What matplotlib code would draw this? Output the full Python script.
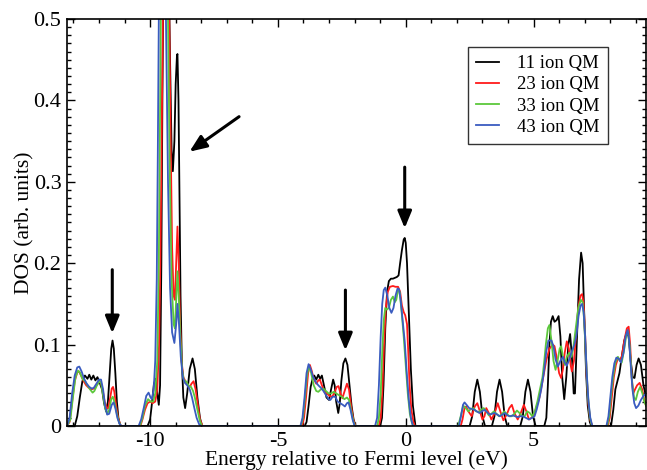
import matplotlib
matplotlib.use("Agg")
import matplotlib.pyplot as plt
from matplotlib.ticker import MultipleLocator

# DOS curves (energy in eV, DOS in arb. units), read as (E, DOS) pairs
black_E = [-13.25, -12.95, -12.85, -12.75, -12.65, -12.55, -12.45, -12.38, -12.30, -12.22,
           -12.14, -12.06, -11.98, -11.88, -11.80, -11.72, -11.65, -11.58, -11.52, -11.47,
           -11.42, -11.36, -11.30, -11.24, -11.17,
           -10.10, -10.00, -9.92, -9.85, -9.78, -9.72, -9.66, -9.61, -9.56, -9.52,
           -9.48, -9.42, -9.35, -9.28, -9.22, -9.16, -9.11, -9.05, -9.00, -8.95,
           -8.93, -8.89, -8.85, -8.81, -8.76, -8.70, -8.63, -8.55, -8.45, -8.34,
           -8.25, -8.15, -8.05, -7.97,
           -3.95, -3.88, -3.80, -3.72, -3.62, -3.58, -3.50, -3.42, -3.35, -3.28,
           -3.20, -3.10, -3.00, -2.92, -2.84, -2.78, -2.72, -2.64, -2.58, -2.52,
           -2.44, -2.36, -2.28, -2.20, -2.12, -2.04, -1.96,
           -1.00, -0.93, -0.87, -0.80, -0.73, -0.66, -0.58, -0.50, -0.42, -0.35,
           -0.28, -0.22, -0.15, -0.08, -0.04, 0.00, 0.05, 0.12, 0.20, 0.28, 0.38,
           2.50, 2.60, 2.70, 2.80, 2.90, 3.00, 3.10,
           3.37, 3.47, 3.57, 3.67, 3.77, 3.87, 3.97,
           4.48, 4.58, 4.68, 4.78, 4.88, 4.98, 5.08,
           5.42, 5.50, 5.56, 5.62, 5.68, 5.75, 5.82, 5.90, 5.98, 6.05,
           6.12, 6.20, 6.28, 6.36, 6.43, 6.50, 6.57, 6.62, 6.70, 6.78,
           6.86, 6.92, 6.98, 7.05, 7.12, 7.20, 7.26,
           8.03, 8.12, 8.20, 8.28, 8.36, 8.45, 8.55, 8.65, 8.72, 8.80,
           8.88, 8.95, 9.03, 9.11, 9.20, 9.30, 9.40]
black_D = [0.000, 0.000, 0.012, 0.035, 0.055, 0.062, 0.058, 0.063, 0.057, 0.062,
           0.056, 0.060, 0.054, 0.045, 0.028, 0.018, 0.030, 0.065, 0.095, 0.105,
           0.095, 0.065, 0.030, 0.010, 0.000,
           0.000, 0.008, 0.030, 0.052, 0.058, 0.040, 0.026, 0.050, 0.200, 0.400,
           0.550, 0.620, 0.640, 0.580, 0.450, 0.340, 0.313, 0.350, 0.420, 0.455,
           0.457, 0.400, 0.280, 0.160, 0.080, 0.035, 0.022, 0.040, 0.070, 0.083,
           0.070, 0.035, 0.010, 0.000,
           0.000, 0.005, 0.025, 0.048, 0.061, 0.062, 0.057, 0.063, 0.058, 0.062,
           0.050, 0.035, 0.032, 0.045, 0.057, 0.050, 0.030, 0.016, 0.028, 0.055,
           0.077, 0.083, 0.075, 0.050, 0.025, 0.008, 0.000,
           0.000, 0.010, 0.050, 0.120, 0.165, 0.178, 0.181, 0.181, 0.182, 0.183,
           0.185, 0.200, 0.216, 0.229, 0.231, 0.225, 0.200, 0.140, 0.070, 0.025, 0.000,
           0.000, 0.012, 0.042, 0.057, 0.042, 0.012, 0.000,
           0.000, 0.012, 0.042, 0.057, 0.042, 0.012, 0.000,
           0.000, 0.012, 0.042, 0.057, 0.042, 0.012, 0.000,
           0.000, 0.010, 0.050, 0.100, 0.128, 0.135, 0.128, 0.130, 0.135, 0.110,
           0.060, 0.033, 0.060, 0.100, 0.113, 0.085, 0.040, 0.040, 0.110, 0.180,
           0.213, 0.200, 0.140, 0.070, 0.025, 0.005, 0.000,
           0.000, 0.020, 0.045, 0.055, 0.065, 0.085, 0.105, 0.115, 0.110, 0.080,
           0.060, 0.059, 0.075, 0.083, 0.075, 0.050, 0.036]

red_E = [-13.25, -13.15, -13.05, -12.95, -12.85, -12.78, -12.70, -12.60, -12.50, -12.40,
         -12.30, -12.20, -12.10, -12.00, -11.93, -11.86, -11.78, -11.70, -11.64, -11.56,
         -11.50, -11.45, -11.40, -11.33, -11.25, -11.15,
         -10.38, -10.30, -10.20, -10.10, -10.00, -9.90, -9.80, -9.72, -9.65, -9.60,
         -9.55, -9.50, -9.42, -9.33, -9.25, -9.20, -9.14, -9.08, -9.03, -8.98,
         -8.93, -8.88, -8.83, -8.77, -8.70, -8.62, -8.52, -8.45, -8.38, -8.30,
         -8.22, -8.13, -8.05, -7.95,
         -4.05, -3.98, -3.90, -3.82, -3.75, -3.68, -3.60, -3.50, -3.42, -3.36,
         -3.28, -3.18, -3.08, -2.98, -2.88, -2.80, -2.70, -2.63, -2.55, -2.48,
         -2.40, -2.30, -2.22, -2.14, -2.05, -1.97,
         -1.05, -0.98, -0.92, -0.85, -0.78, -0.70, -0.62, -0.50, -0.40, -0.30,
         -0.22, -0.15, -0.08, -0.02, 0.05, 0.10, 0.15, 0.22, 0.30, 0.36,
         2.15, 2.22, 2.30, 2.36, 2.45, 2.58, 2.70, 2.80, 2.90, 3.00,
         3.08, 3.15, 3.25, 3.35, 3.48, 3.60, 3.70, 3.82, 3.95, 4.05,
         4.15, 4.25, 4.38, 4.50, 4.62, 4.72, 4.82, 4.92, 5.02, 5.12,
         5.23, 5.35, 5.50, 5.62, 5.75, 5.82, 5.90, 6.00, 6.08, 6.15,
         6.22, 6.30, 6.38, 6.45, 6.50, 6.58, 6.66, 6.75, 6.83, 6.90,
         6.96, 7.02, 7.08, 7.15, 7.22, 7.30,
         7.90, 7.98, 8.06, 8.14, 8.22, 8.30, 8.38, 8.45, 8.55, 8.65,
         8.72, 8.78, 8.84, 8.90, 8.97, 9.05, 9.15, 9.25, 9.33, 9.40]
red_D = [0.000, 0.005, 0.030, 0.055, 0.066, 0.067, 0.062, 0.055, 0.050, 0.047,
         0.045, 0.046, 0.050, 0.054, 0.054, 0.045, 0.030, 0.022, 0.022, 0.035,
         0.046, 0.048, 0.042, 0.025, 0.010, 0.000,
         0.000, 0.008, 0.020, 0.028, 0.030, 0.028, 0.030, 0.045, 0.100, 0.200,
         0.350, 0.500, 0.620, 0.620, 0.500, 0.360, 0.220, 0.160, 0.155, 0.200,
         0.245, 0.200, 0.130, 0.080, 0.060, 0.055, 0.050, 0.048, 0.052, 0.055,
         0.045, 0.025, 0.008, 0.000,
         0.000, 0.010, 0.035, 0.065, 0.075, 0.068, 0.058, 0.052, 0.056, 0.057,
         0.050, 0.042, 0.040, 0.037, 0.036, 0.040, 0.048, 0.049, 0.040, 0.034,
         0.042, 0.052, 0.045, 0.025, 0.008, 0.000,
         0.000, 0.010, 0.040, 0.100, 0.145, 0.165, 0.171, 0.172, 0.171, 0.171,
         0.165, 0.148, 0.140, 0.136, 0.125, 0.090, 0.050, 0.020, 0.005, 0.000,
         0.000, 0.008, 0.022, 0.024, 0.018, 0.012, 0.024, 0.028, 0.018, 0.008,
         0.012, 0.022, 0.016, 0.008, 0.016, 0.028, 0.018, 0.007, 0.014, 0.022,
         0.026, 0.016, 0.008, 0.016, 0.026, 0.018, 0.008, 0.010, 0.014, 0.024,
         0.035, 0.055, 0.081, 0.095, 0.100, 0.098, 0.085, 0.065, 0.059, 0.070,
         0.090, 0.104, 0.095, 0.075, 0.067, 0.080, 0.110, 0.145, 0.160, 0.162,
         0.150, 0.110, 0.060, 0.025, 0.007, 0.000,
         0.000, 0.010, 0.035, 0.060, 0.075, 0.083, 0.082, 0.085, 0.105, 0.120,
         0.122, 0.100, 0.060, 0.040, 0.045, 0.050, 0.053, 0.045, 0.032, 0.025]

green_E = [-13.25, -13.12, -13.02, -12.92, -12.82, -12.75, -12.65, -12.55, -12.45, -12.35,
           -12.25, -12.18, -12.08, -11.98, -11.92, -11.85, -11.76, -11.68, -11.60, -11.52,
           -11.46, -11.40, -11.32, -11.24, -11.15,
           -10.40, -10.30, -10.20, -10.08, -9.98, -9.88, -9.80, -9.72, -9.66, -9.62,
           -9.58, -9.50, -9.40, -9.30, -9.24, -9.16, -9.08, -9.03, -8.98, -8.93,
           -8.88, -8.82, -8.75, -8.68, -8.60, -8.50, -8.40, -8.32, -8.25, -8.15,
           -8.05, -7.97,
           -4.10, -4.02, -3.94, -3.86, -3.78, -3.70, -3.60, -3.50, -3.42, -3.32,
           -3.22, -3.12, -3.02, -2.92, -2.82, -2.72, -2.62, -2.50, -2.40, -2.30,
           -2.22, -2.14, -2.05, -1.98,
           -1.12, -1.05, -0.98, -0.92, -0.86, -0.80, -0.74, -0.66, -0.58, -0.50,
           -0.43, -0.37, -0.30, -0.24, -0.16, -0.08, 0.00, 0.08, 0.16, 0.24, 0.30,
           2.05, 2.15, 2.25, 2.35, 2.45, 2.55, 2.65, 2.75, 2.85, 2.95,
           3.05, 3.15, 3.25, 3.35, 3.45, 3.55, 3.65, 3.75, 3.85, 3.95,
           4.05, 4.15, 4.25, 4.35, 4.45, 4.55, 4.65, 4.75, 4.85, 4.95,
           5.05, 5.15, 5.25, 5.35, 5.42, 5.48, 5.56, 5.62, 5.70, 5.78,
           5.86, 5.94, 6.02, 6.08, 6.15, 6.22, 6.30, 6.40, 6.48, 6.55,
           6.65, 6.75, 6.85, 6.92, 6.98, 7.05, 7.12, 7.20, 7.28,
           7.88, 7.96, 8.04, 8.12, 8.20, 8.30, 8.38, 8.45, 8.55, 8.63,
           8.70, 8.77, 8.85, 8.93, 9.00, 9.08, 9.17, 9.26, 9.33, 9.40]
green_D = [0.000, 0.008, 0.035, 0.060, 0.068, 0.066, 0.058, 0.055, 0.050, 0.045,
           0.041, 0.043, 0.050, 0.055, 0.053, 0.040, 0.022, 0.015, 0.020, 0.033,
           0.036, 0.030, 0.018, 0.007, 0.000,
           0.000, 0.010, 0.025, 0.033, 0.030, 0.030, 0.040, 0.080, 0.200, 0.350,
           0.500, 0.640, 0.640, 0.500, 0.330, 0.180, 0.125, 0.120, 0.155, 0.190,
           0.160, 0.110, 0.070, 0.056, 0.055, 0.050, 0.048, 0.043, 0.035, 0.020,
           0.006, 0.000,
           0.000, 0.010, 0.035, 0.063, 0.074, 0.065, 0.050, 0.043, 0.042, 0.045,
           0.046, 0.043, 0.040, 0.040, 0.042, 0.040, 0.038, 0.036, 0.033, 0.035,
           0.032, 0.020, 0.006, 0.000,
           0.000, 0.010, 0.040, 0.090, 0.130, 0.145, 0.143, 0.145, 0.155, 0.159,
           0.152, 0.155, 0.167, 0.165, 0.140, 0.110, 0.075, 0.040, 0.015, 0.004, 0.000,
           0.000, 0.012, 0.025, 0.022, 0.018, 0.021, 0.022, 0.018, 0.017, 0.020,
           0.022, 0.018, 0.013, 0.015, 0.018, 0.015, 0.012, 0.014, 0.018, 0.015,
           0.012, 0.012, 0.015, 0.019, 0.016, 0.012, 0.012, 0.018, 0.016, 0.012,
           0.018, 0.030, 0.045, 0.060, 0.080, 0.100, 0.120, 0.124, 0.105, 0.080,
           0.069, 0.080, 0.095, 0.098, 0.085, 0.075, 0.085, 0.090, 0.085, 0.095,
           0.120, 0.145, 0.155, 0.152, 0.130, 0.085, 0.040, 0.012, 0.000,
           0.000, 0.012, 0.040, 0.062, 0.078, 0.085, 0.080, 0.078, 0.095, 0.112,
           0.116, 0.095, 0.055, 0.035, 0.032, 0.042, 0.048, 0.040, 0.030, 0.025]

blue_E = [-13.25, -13.15, -13.05, -12.95, -12.85, -12.77, -12.68, -12.58, -12.48, -12.38,
          -12.28, -12.20, -12.10, -12.00, -11.92, -11.84, -11.76, -11.68, -11.60, -11.50,
          -11.43, -11.36, -11.28, -11.20, -11.12,
          -10.45, -10.35, -10.25, -10.15, -10.06, -9.98, -9.93, -9.86, -9.80, -9.74,
          -9.70, -9.66, -9.58, -9.48, -9.38, -9.30, -9.22, -9.14, -9.05, -8.98,
          -8.93, -8.87, -8.80, -8.72, -8.64, -8.55, -8.45, -8.36, -8.27, -8.18,
          -8.08, -8.00,
          -4.12, -4.04, -3.96, -3.88, -3.80, -3.72, -3.62, -3.52, -3.42, -3.32,
          -3.22, -3.12, -3.02, -2.95, -2.86, -2.76, -2.66, -2.56, -2.46, -2.38,
          -2.30, -2.24, -2.16, -2.08, -2.00,
          -1.20, -1.12, -1.05, -0.98, -0.92, -0.86, -0.80, -0.72, -0.64, -0.56,
          -0.48, -0.40, -0.32, -0.26, -0.20, -0.12, -0.04, 0.04, 0.12, 0.20, 0.28,
          2.08, 2.16, 2.24, 2.30, 2.38, 2.48, 2.58, 2.68, 2.78, 2.88,
          2.98, 3.08, 3.18, 3.28, 3.38, 3.48, 3.58, 3.68, 3.78, 3.88,
          3.98, 4.08, 4.18, 4.28, 4.38, 4.48, 4.58, 4.70, 4.82, 4.94,
          5.04, 5.12, 5.20, 5.30, 5.40, 5.50, 5.58, 5.70, 5.78, 5.86,
          5.95, 6.05, 6.15, 6.22, 6.30, 6.40, 6.50, 6.60, 6.68, 6.76,
          6.84, 6.90, 6.96, 7.02, 7.08, 7.15, 7.22, 7.30,
          7.85, 7.93, 8.00, 8.08, 8.16, 8.24, 8.32, 8.42, 8.52, 8.60,
          8.68, 8.74, 8.80, 8.87, 8.94, 9.01, 9.10, 9.20, 9.30, 9.40]
blue_D = [0.000, 0.010, 0.040, 0.062, 0.072, 0.073, 0.067, 0.058, 0.052, 0.048,
          0.046, 0.047, 0.052, 0.057, 0.057, 0.045, 0.025, 0.014, 0.015, 0.026,
          0.029, 0.022, 0.010, 0.003, 0.000,
          0.000, 0.008, 0.022, 0.037, 0.041, 0.035, 0.033, 0.045, 0.080, 0.180,
          0.330, 0.500, 0.630, 0.620, 0.500, 0.300, 0.170, 0.115, 0.102, 0.125,
          0.150, 0.125, 0.085, 0.060, 0.053, 0.050, 0.045, 0.035, 0.022, 0.010,
          0.002, 0.000,
          0.000, 0.010, 0.035, 0.065, 0.076, 0.070, 0.060, 0.054, 0.050, 0.047,
          0.043, 0.038, 0.033, 0.032, 0.036, 0.036, 0.030, 0.028, 0.026, 0.024,
          0.028, 0.029, 0.020, 0.008, 0.000,
          0.000, 0.010, 0.050, 0.110, 0.150, 0.167, 0.170, 0.160, 0.145, 0.139,
          0.145, 0.160, 0.169, 0.168, 0.155, 0.130, 0.104, 0.065, 0.032, 0.010, 0.000,
          0.000, 0.012, 0.026, 0.029, 0.026, 0.022, 0.021, 0.020, 0.018, 0.016,
          0.018, 0.020, 0.017, 0.014, 0.015, 0.016, 0.014, 0.012, 0.014, 0.016,
          0.013, 0.012, 0.013, 0.012, 0.011, 0.012, 0.012, 0.010, 0.008, 0.010,
          0.012, 0.020, 0.030, 0.045, 0.065, 0.092, 0.105, 0.105, 0.098, 0.082,
          0.073, 0.080, 0.085, 0.078, 0.074, 0.082, 0.092, 0.100, 0.112, 0.135,
          0.148, 0.150, 0.140, 0.110, 0.065, 0.030, 0.010, 0.000,
          0.000, 0.012, 0.035, 0.060, 0.077, 0.084, 0.083, 0.078, 0.090, 0.110,
          0.118, 0.105, 0.075, 0.045, 0.028, 0.022, 0.025, 0.032, 0.037, 0.040]

labels = ["11 ion QM", "23 ion QM", "33 ion QM", "43 ion QM"]
colors = ["black", "#ff1a1a", "#5cc83c", "#3a5cc0"]

# arrows marking features: (tail E, tail DOS, tip E, tip DOS)
arrows = [(-11.48, 0.192, -11.48, 0.114),
          (-6.52, 0.380, -8.46, 0.337),
          (-2.36, 0.167, -2.36, 0.093),
          (-0.04, 0.318, -0.04, 0.243)]

plt.rcParams['font.family'] = ['Liberation Serif', 'DejaVu Serif']
plt.rcParams['axes.unicode_minus'] = False

fig = plt.figure(figsize=(6.47, 4.70), dpi=100)
ax = fig.add_axes([0.1036, 0.0936, 0.8949, 0.866])

series = [(black_E, black_D), (red_E, red_D), (green_E, green_D), (blue_E, blue_D)]
for (e, d), lab, c in zip(series, labels, colors):
    ax.plot(e, d, color=c, lw=1.3, label=lab)

for x0, y0, x1, y1 in arrows:
    ax.annotate('', xy=(x1, y1), xytext=(x0, y0),
                arrowprops=dict(arrowstyle='-|>,head_width=0.35,head_length=0.85',
                                lw=2.2, color='black', shrinkA=0, shrinkB=0,
                                mutation_scale=12))

ax.set_xlim(-13.25, 9.4)
ax.set_ylim(0, 0.5)
ax.xaxis.set_major_locator(MultipleLocator(5))
ax.xaxis.set_minor_locator(MultipleLocator(1))
ax.yaxis.set_minor_locator(MultipleLocator(0.01))
ax.set_yticks([0, 0.1, 0.2, 0.3, 0.4, 0.5])
ax.set_yticklabels(["0", "0.1", "0.2", "0.3", "0.4", "0.5"])
ax.tick_params(which='both', direction='in', top=True, right=True, labelsize=16, width=1)
ax.tick_params(which='major', length=6, pad=4)
ax.tick_params(which='minor', length=3)
for s in ax.spines.values():
    s.set_linewidth(1.2)

ax.set_xlabel("Energy relative to Fermi level (eV)", fontsize=15.5, labelpad=0)
ax.set_ylabel("DOS (arb. units)", fontsize=15.5)
ax.yaxis.set_label_coords(-0.056, 0.5)

leg = ax.legend(loc='upper right', bbox_to_anchor=(0.935, 0.932), borderaxespad=0,
                fontsize=13.5, frameon=True, fancybox=False, handlelength=1.2,
                handletextpad=1.0, labelspacing=0.22, borderpad=0.45)
leg.get_frame().set_edgecolor('black')
leg.get_frame().set_linewidth(1.0)

fig.savefig("out.png", dpi=100)
